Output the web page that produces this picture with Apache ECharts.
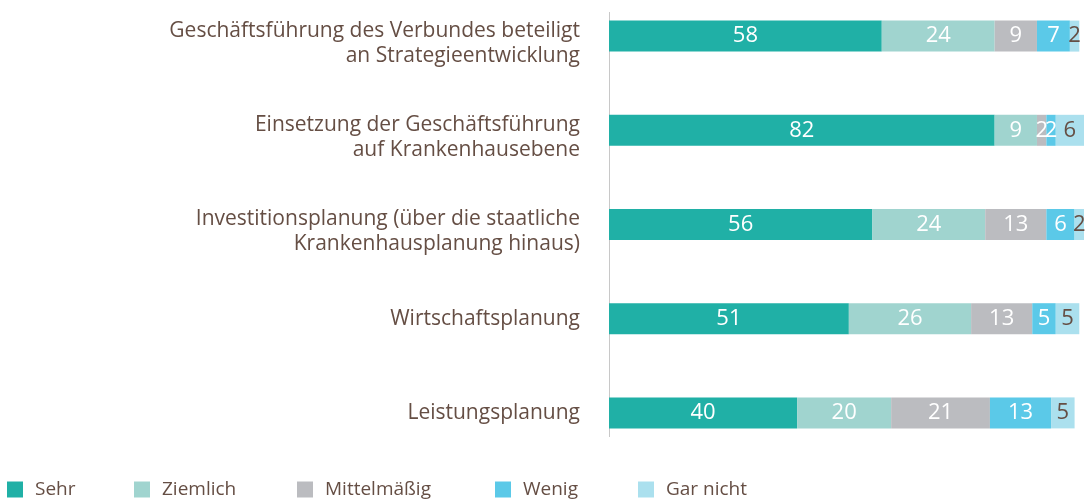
<!DOCTYPE html>
<html>
<head>
<meta charset="utf-8">
<script src="https://cdn.jsdelivr.net/npm/echarts@6/dist/echarts.min.js"></script>
<style>
  html, body { margin: 0; padding: 0; background: #fff; overflow: hidden; }
  /* Container 11px nach oben verschoben, da grid.top nicht negativ sein kann */
  #chart { position: absolute; left: 0; top: -11px; width: 1085px; height: 510px; }
</style>
</head>
<body>
<div id="chart"></div>
<script>
  // Daten
  var categories = [
    'Geschäftsführung des Verbundes beteiligt\nan Strategieentwicklung',
    'Einsetzung der Geschäftsführung\nauf Krankenhausebene',
    'Investitionsplanung (über die staatliche\nKrankenhausplanung hinaus)',
    'Wirtschaftsplanung',
    'Leistungsplanung'
  ]
  var seriesNames = ['Sehr', 'Ziemlich', 'Mittelmäßig', 'Wenig', 'Gar nicht']
  var sehr = [58, 82, 56, 51, 40]
  var ziemlich = [24, 9, 24, 26, 20]
  var mittelmaessig = [9, 2, 13, 13, 21]
  var wenig = [7, 2, 6, 5, 13]
  var garNicht = [2, 6, 2, 5, 5]

  var values = [sehr, ziemlich, mittelmaessig, wenig, garNicht]
  var colors = ['#20b0a6', '#a0d4cf', '#bbbcc0', '#5bc9e8', '#abe0ee']
  var labelColors = ['#fff', '#fff', '#fff', '#fff', '#654e44']
  var brown = '#654e44'
  var font = '"Open Sans", sans-serif'

  // Legende: jeder Eintrag einzeln positioniert
  var legendLeft = [7, 134, 297, 495, 638]
  var legends = seriesNames.map(function (name, i) {
    return {
      left: legendLeft[i],
      top: 491,
      padding: 0,
      data: [name],
      icon: 'rect',
      itemWidth: 16,
      itemHeight: 16,
      itemGap: 0,
      selectedMode: false,
      textStyle: {
        color: brown,
        fontFamily: font,
        fontSize: 19,
        padding: [0, 0, 0, 7]
      }
    }
  })

  var series = seriesNames.map(function (name, i) {
    return {
      name: name,
      type: 'bar',
      stack: 'total',
      barWidth: 31,
      itemStyle: { color: colors[i] },
      label: {
        show: true,
        position: 'inside',
        color: labelColors[i],
        fontFamily: font,
        fontSize: 22
      },
      labelLayout: { hideOverlap: false },
      data: values[i]
    }
  })

  var myChart = echarts.init(document.getElementById('chart'))
  var initOptions = {
    animation: false,
    legend: legends,
    grid: {
      left: 609,
      right: 1,
      top: 0,
      bottom: 39
    },
    xAxis: {
      type: 'value',
      min: 0,
      max: 101,
      show: false
    },
    yAxis: {
      type: 'category',
      inverse: true,
      data: categories,
      axisLine: { show: false },
      axisTick: { show: false },
      axisLabel: {
        color: brown,
        fontFamily: font,
        fontSize: 21,
        align: 'right',
        margin: 29,
        // zweizeilige Beschriftungen sitzen etwas tiefer als die Balkenmitte
        formatter: function (value) {
          var lines = value.split('\n')
          if (lines.length === 1) return '{b|' + value + '}'
          return lines.map(function (l, i) {
            return (i === 0 ? '{a|' : '{b|') + l + '}'
          }).join('\n')
        },
        rich: {
          a: { color: brown, fontFamily: font, fontSize: 21, padding: [18, 0, 0, 0] },
          b: { color: brown, fontFamily: font, fontSize: 21, lineHeight: 28 }
        }
      }
    },
    // senkrechte Achsenlinie (kürzer als der Kategoriebereich)
    graphic: [{
      type: 'line',
      shape: { x1: 609.5, y1: 23, x2: 609.5, y2: 448 },
      style: { stroke: '#c8c8c8', lineWidth: 1 }
    }],
    series: series
  }
  myChart.setOption(initOptions)
</script>
</body>
</html>
